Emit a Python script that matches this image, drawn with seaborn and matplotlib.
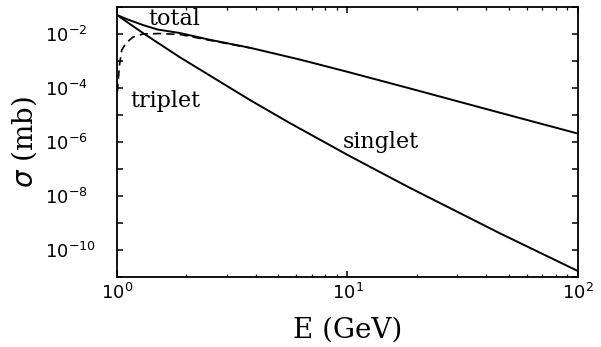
import numpy as np
import pandas as pd
import matplotlib
matplotlib.use("Agg")
import matplotlib.pyplot as plt
from matplotlib.ticker import FixedLocator, FuncFormatter, LogLocator, NullFormatter, NullLocator
import seaborn as sns

# Cross sections (mb) versus energy (GeV)
total_E = [1.0, 1.1, 1.296, 1.5, 1.874, 2.5, 3.77, 6.2, 10.2, 18.5, 45.5, 100.0]
total_sigma = [0.0506, 0.036, 0.0215, 0.0147, 0.0109, 6.25e-3, 3.11e-3, 1.14e-3,
               3.81e-4, 9.84e-5, 1.24e-5, 2.05e-6]

singlet_E = [1.0, 1.296, 1.874, 3.77, 5.61, 10.2, 18.5, 45.5, 100.0]
singlet_sigma = [0.0506, 0.0109, 1.38e-3, 3.62e-5, 5.09e-6, 3.05e-7, 2.08e-8,
                 4.29e-10, 1.66e-11]

triplet_E = [1.003, 1.013, 1.025, 1.048, 1.094, 1.173, 1.296, 1.535, 1.874, 2.5, 3.77]
triplet_sigma = [7.1e-5, 1.98e-4, 7.1e-4, 2.55e-3, 4.64e-3, 7.7e-3, 0.0100, 0.01045,
                 9.6e-3, 5.98e-3, 3.07e-3]

x_ticks = [1, 10, 100]
y_decades = list(range(-11, 0))

sns.set_theme(style="ticks")
plt.rcParams["font.family"] = ["DejaVu Sans"]
plt.rcParams["mathtext.fontset"] = "dejavusans"

fig = plt.figure(figsize=(6.01, 3.47), dpi=100)
ax = fig.add_axes([0.1947, 0.2017, 0.767, 0.778])

df_t = pd.DataFrame({"E": triplet_E, "sigma": triplet_sigma})
df_s = pd.DataFrame({"E": singlet_E, "sigma": singlet_sigma})
df_tot = pd.DataFrame({"E": total_E, "sigma": total_sigma})

sns.lineplot(data=df_t, x="E", y="sigma", ax=ax, color="black", linewidth=1.2,
             linestyle=(0, (5, 3)), estimator=None, sort=False)
sns.lineplot(data=df_s, x="E", y="sigma", ax=ax, color="black", linewidth=1.4,
             estimator=None, sort=False)
sns.lineplot(data=df_tot, x="E", y="sigma", ax=ax, color="black", linewidth=1.4,
             estimator=None, sort=False)

ax.set_xscale("log")
ax.set_yscale("log")
ax.set_xlim(1, 100)
ax.set_ylim(1e-11, 1e-1)

# x axis: decades labelled, 2..9 minor ticks
ax.xaxis.set_major_locator(FixedLocator(x_ticks))
ax.xaxis.set_major_formatter(
    FuncFormatter(lambda v, p: r"$10^{%d}$" % int(round(np.log10(v)))))
ax.xaxis.set_minor_locator(LogLocator(base=10, subs=np.arange(2, 10), numticks=20))
ax.xaxis.set_minor_formatter(NullFormatter())

# y axis: a tick every decade, labels on even exponents only
ax.yaxis.set_major_locator(FixedLocator([10.0 ** k for k in y_decades]))
def ylab(v, p):
    k = int(round(np.log10(v)))
    return r"$10^{%d}$" % k if k % 2 == 0 else ""
ax.yaxis.set_major_formatter(FuncFormatter(ylab))
ax.yaxis.set_minor_locator(NullLocator())

ax.tick_params(which="both", direction="in", top=True, right=True,
               color="black", labelcolor="black", labelsize=13)
ax.tick_params(which="major", length=4.5, width=1.1)
ax.tick_params(which="minor", length=2.2, width=0.9)
ax.tick_params(axis="x", pad=4)
ax.tick_params(axis="y", pad=52)
for lab in ax.get_yticklabels():
    lab.set_horizontalalignment("left")

for sp in ax.spines.values():
    sp.set_linewidth(1.3)
    sp.set_color("black")

ax.set_xlabel("E (GeV)", fontsize=20, family="DejaVu Serif", color="black")
ax.set_ylabel(r"$\sigma$ (mb)", fontsize=20, family="DejaVu Serif", color="black")
ax.xaxis.set_label_coords(0.5, -0.145)
ax.yaxis.set_label_coords(-0.17, 0.5)

txt = dict(fontsize=16, family="DejaVu Serif", color="black", va="baseline", ha="left")
ax.text(1.362, 0.0215, "total", **txt)
ax.text(1.138, 2.0e-5, "triplet", **txt)
ax.text(9.5, 5.8e-7, "singlet", **txt)

fig.savefig("out.png", dpi=100, facecolor="white")
